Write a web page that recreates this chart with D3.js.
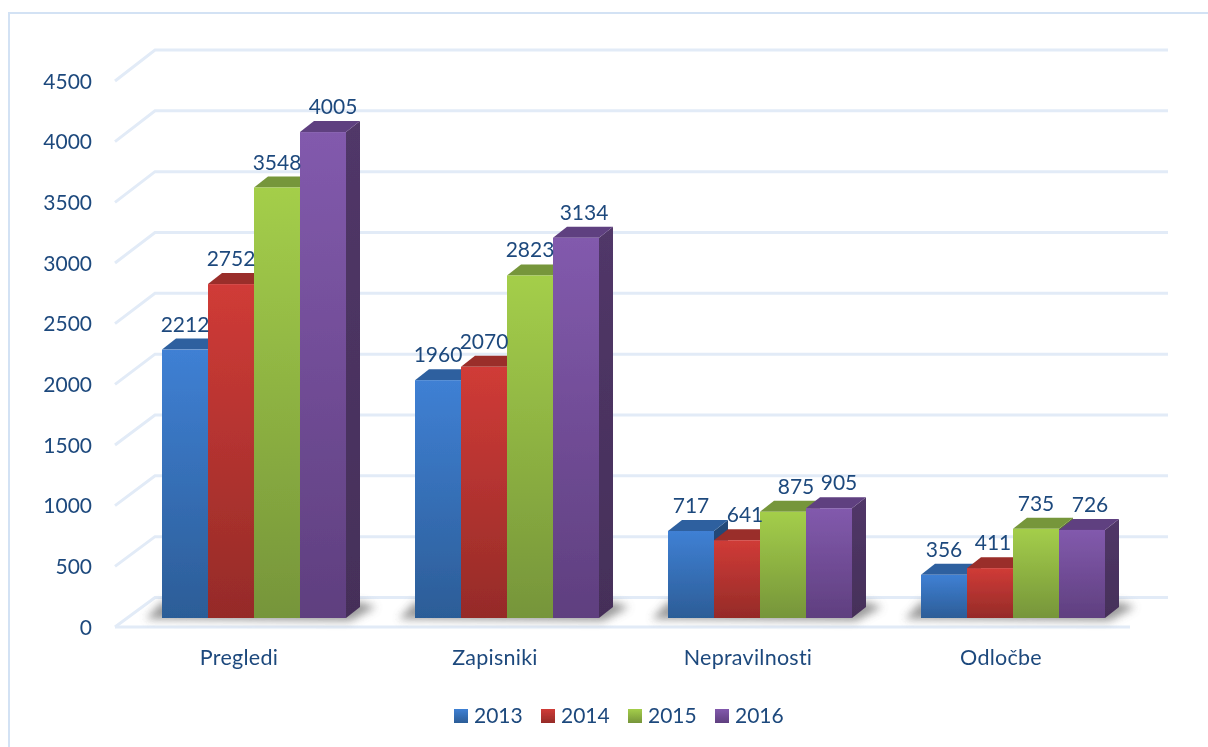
<!DOCTYPE html>
<html><head><meta charset="utf-8">
<script src="https://cdnjs.cloudflare.com/ajax/libs/d3/7.8.5/d3.min.js"></script>
<style>html,body{margin:0;padding:0;background:#fff;overflow:hidden}svg{display:block}text{font-family:Lato,"Open Sans",sans-serif;fill:#1F497D}</style>
</head><body><div id="c"></div>
<script>
const categories = ["Pregledi","Zapisniki","Nepravilnosti","Odločbe"];
const years = ["2013","2014","2015","2016"];
const v2013 = [2212,1960,717,356];
const v2014 = [2752,2070,641,411];
const v2015 = [3548,2823,875,735];
const v2016 = [4005,3134,905,726];
const yTicks = [0,500,1000,1500,2000,2500,3000,3500,4000,4500];
const seriesValues = [v2013,v2014,v2015,v2016];
const W=1208,H=747;
const palette=[
 {top:"#3F80D4",bot:"#2C5D97",lid:"#2E619F",side:"#24497A"},
 {top:"#D03B37",bot:"#952B28",lid:"#9A2D2A",side:"#7A2220"},
 {top:"#A4CE4A",bot:"#76953A",lid:"#76963A",side:"#5F7A2E"},
 {top:"#825AAD",bot:"#5F3F7F",lid:"#5F3F80",side:"#513768"}];
const depthX=14,depthY=11;
const y=d3.scaleLinear().domain([0,4500]).range([618,72]);
const x0=d3.scaleBand().domain(categories).range([162,1174]);
const bandInner=184;
const x1=d3.scaleBand().domain(years).range([0,bandInner]);
const svg=d3.select("#c").append("svg").attr("width",W).attr("height",H);
const defs=svg.append("defs");
defs.append("filter").attr("id","blur").attr("x","-30%").attr("y","-200%").attr("width","160%").attr("height","500%")
  .append("feGaussianBlur").attr("stdDeviation",4.2);
defs.append("filter").attr("id","soft").attr("filterUnits","userSpaceOnUse").attr("x",0).attr("y",0).attr("width",W).attr("height",H)
  .append("feGaussianBlur").attr("stdDeviation",0.5);
defs.append("filter").attr("id","softText").attr("filterUnits","userSpaceOnUse").attr("x",0).attr("y",0).attr("width",W).attr("height",H)
  .append("feGaussianBlur").attr("stdDeviation",0.3);
palette.forEach((p,i)=>{
  const g=defs.append("linearGradient").attr("id","g"+i).attr("x1",0).attr("y1",0).attr("x2",0).attr("y2",1);
  g.append("stop").attr("offset","0%").attr("stop-color",p.top);
  g.append("stop").attr("offset","100%").attr("stop-color",p.bot);
  const s=defs.append("linearGradient").attr("id","s"+i).attr("x1",0).attr("y1",0).attr("x2",0).attr("y2",1);
  s.append("stop").attr("offset","0%").attr("stop-color",p.side);
  s.append("stop").attr("offset","100%").attr("stop-color",d3.color(p.side).darker(0.45));
});
// frame
const frame=svg.append("g").attr("stroke","#D3E2F4").attr("stroke-width",2).attr("fill","none");
frame.append("line").attr("x1",8).attr("x2",W).attr("y1",13).attr("y2",13);
frame.append("line").attr("x1",9).attr("x2",9).attr("y1",12).attr("y2",H);

const plot=svg.append("g").attr("filter","url(#soft)");
const backY=d3.scaleLinear().domain([0,4500]).range([597.5,50]);
const frontY=d3.scaleLinear().domain([0,4500]).range([627,81]);
const grid=plot.append("g").attr("fill","none").attr("stroke","#E2EBF7").attr("stroke-width",3);
grid.selectAll("path").data(yTicks).join("path")
  .attr("d",t=>`M115,${frontY(t)}L155,${backY(t)}L1168,${backY(t)}`);
grid.append("path").attr("d",`M115,${frontY(0)}L1130,${frontY(0)}`);

const groups=plot.selectAll("g.group").data(categories).join("g").attr("class","group")
  .attr("transform",c=>`translate(${x0(c)},0)`);
// floor shadows
groups.append("path").attr("filter","url(#blur)").attr("fill","#707070").attr("opacity",.7)
  .attr("d",`M-16,619 L${bandInner+4},621 L${bandInner+30},607 L${bandInner+14},602 L0,602Z`);
groups.each(function(c,ci){
  const g=d3.select(this);
  years.forEach((yr,si)=>{
    const val=seriesValues[si][ci],xx=x1(yr),w=x1.bandwidth(),t=y(val),b=y(0);
    g.append("path").attr("fill",`url(#s${si})`)
      .attr("d",`M${xx+w},${t}L${xx+w+depthX},${t-depthY}L${xx+w+depthX},${b-depthY}L${xx+w},${b}Z`);
    g.append("path").attr("fill",palette[si].lid)
      .attr("d",`M${xx},${t}L${xx+depthX},${t-depthY}L${xx+w+depthX},${t-depthY}L${xx+w},${t}Z`);
    g.append("rect").attr("x",xx).attr("y",t).attr("width",w).attr("height",b-t).attr("fill",`url(#g${si})`);
  });
});
// text layer
const labels=svg.append("g").attr("filter","url(#softText)");
const labelNudge=[[0,0,0,0],[0,0,8,3],[0,0,13,0],[10,8,10,8]];
categories.forEach((c,ci)=>{
  years.forEach((yr,si)=>{
    const val=seriesValues[si][ci];
    labels.append("text").attr("x",x0(c)+x1(yr)+x1.bandwidth()/2+labelNudge[si][ci]).attr("y",y(val)-18)
      .attr("text-anchor","middle").attr("font-size",21).text(val);
  });
});
labels.append("g").selectAll("text").data(yTicks).join("text")
  .attr("x",92).attr("y",t=>frontY(t)).attr("dy","0.36em").attr("text-anchor","end").attr("font-size",21).text(t=>t);
labels.append("g").selectAll("text").data(categories).join("text")
  .attr("x",(c,i)=>x0(c)+(i===0?77:80)).attr("y",665).attr("text-anchor","middle").attr("font-size",21.5).attr("letter-spacing",0.25).text(c=>c);
// legend
const lg=labels.append("g").selectAll("g").data(years).join("g")
  .attr("transform",(d,i)=>`translate(${454+i*87},0)`);
lg.append("rect").attr("x",0).attr("y",709).attr("width",14).attr("height",14).attr("fill",(d,i)=>`url(#g${i})`);
lg.append("text").attr("x",20).attr("y",723).attr("font-size",21).text(d=>d);
</script></body></html>
